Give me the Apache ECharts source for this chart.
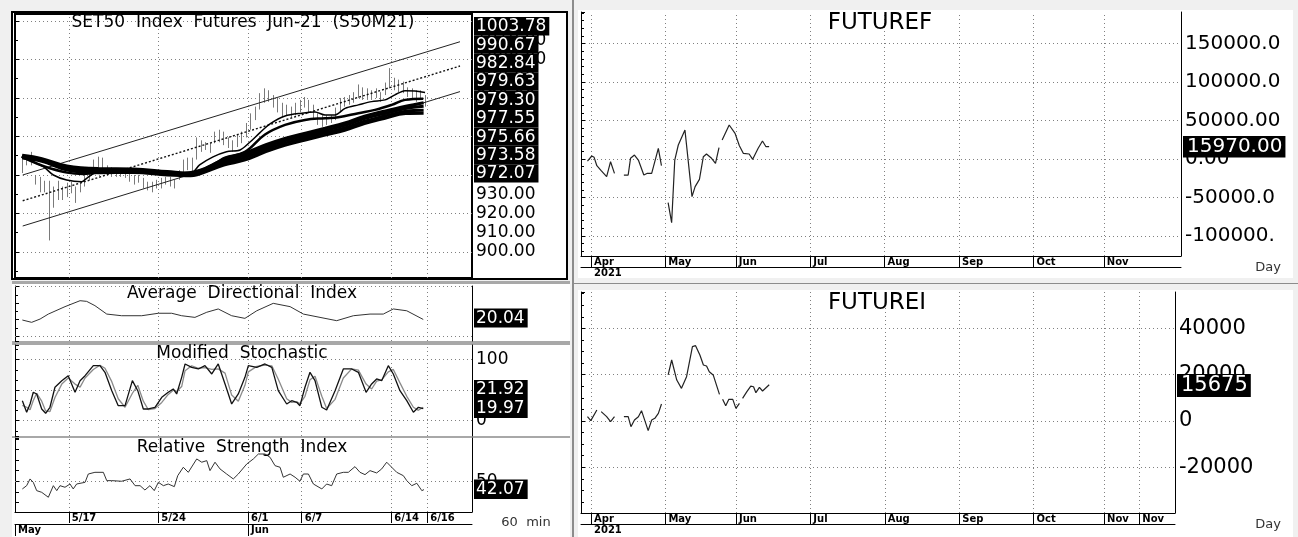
<!DOCTYPE html>
<html>
<head>
<meta charset="utf-8">
<title>SET50 Index Futures Jun-21</title>
<script src="https://cdn.jsdelivr.net/npm/echarts@6/dist/echarts.min.js"></script>
<style>
  html, body { margin: 0; padding: 0; background: #f0f0f0; }
  #chart { width: 1298px; height: 537px; }
</style>
</head>
<body>
<div id="chart"></div>
<script>
// ---- left side: 60 min chart, x in trading days (0 = left edge of plot) ----
const dateDays = [3, 8, 13, 16, 21, 23];
const dateLabels = ['5/17', '5/24', '6/1', '6/7', '6/14', '6/16'];
const monthDays = [0, 13];
const monthLabels = ['May', 'Jun'];

// price bars, four per day starting at barStart
const barStart = 0.375, barStep = 0.25;
const barLow = [941, 945, 945, 935, 931, 931, 906, 923, 927, 927,
  928.5, 930.5, 925.5, 931, 934, 937.5, 941, 944, 943.5, 940,
  939, 939, 939, 938.5, 936.5, 935, 936, 933, 932, 931,
  933, 933, 935, 934, 933, 937.5, 941, 942.5, 941.5, 948,
  952, 953, 951.5, 956.5, 957, 955.5, 954, 952, 954.5, 956.5,
  959.5, 963.5, 968.5, 974, 977.5, 978, 975, 972.5, 970, 971,
  970, 971, 972.5, 975, 972, 969.5, 966, 965, 966, 967,
  968.5, 972.5, 975.5, 976.5, 977.5, 980, 979, 979, 979, 980,
  978, 981.5, 985, 984, 983, 982.5, 980.5, 980, 978, 979,
  975.5];
const barHigh = [948, 949, 952, 940, 939, 937, 937, 934, 937, 934,
  936, 936.5, 934, 936, 940, 944, 948, 949.5, 949, 945,
  944, 943.5, 942.5, 941.5, 942.5, 940, 940, 938.5, 936.5, 936.5,
  937.5, 938.5, 939, 939, 937.5, 942.5, 948, 949, 949, 959.5,
  958, 957, 956.5, 962.5, 963.5, 962.5, 959.5, 958, 961, 962.5,
  967, 972, 975.5, 982.5, 985, 984, 981.5, 980, 977.5, 976.5,
  975.5, 977.5, 979, 980.5, 979, 976.5, 972, 971, 971, 971,
  975, 980, 980.5, 981.5, 983, 987, 985.5, 985, 984, 985,
  983, 988, 995.5, 990.5, 989.5, 988.5, 985.5, 985, 984, 984,
  981.5];

// regression channel
const chanDays = [0.43, 24.83];
const chanUpper = [940.0, 1009.2];
const chanMid = [926.6, 996.6];
const chanLower = [913.5, 983.3];

// moving averages
const maFastDays = [0.37, 1.58, 2.14, 2.88, 3.72, 4.0, 4.56, 5.3, 6.98, 8.65, 9.77, 10.3, 11.05, 11.8, 12.56, 13.1,
  13.67, 14.23, 15.07, 16.0, 16.74, 17.3, 17.86, 18.42, 19.16, 19.9, 20.65, 21.2, 21.76, 22.32, 22.88];
const maFast = [949.5, 944.3, 940, 937.4, 936.5, 938.3, 941.7, 942.6, 942, 940.5, 940.5, 945.2, 949.4, 952.1, 953, 957,
  962, 966.5, 970.6, 972.1, 972.7, 971.2, 971.2, 974.6, 976.4, 978.1, 979, 981.6, 983.8, 983.6, 982.84];
const maMidDays = [0.37, 1.95, 3.81, 5.3, 7.53, 9.21, 10.33, 11.26, 11.72, 12.83, 13.95, 15.07, 16.18, 17.3, 18.04,
  19.16, 20.09, 21.02, 21.76, 22.78];
const maMid = [949.5, 943.5, 940.5, 941.7, 941.7, 940.9, 942.6, 946.5, 949, 952, 961, 966, 968.6, 969.5, 970,
  972.1, 973.8, 976.4, 979, 979.63];
const maSlowDays = [0.4, 1.5, 2.9, 4.7, 6.6, 8.5, 9.8, 11.0, 11.7, 12.8, 14.0, 15.1, 16.2, 17.3, 18.4, 19.5, 20.6, 21.8, 22.8];
const maSlow1 = [950.2, 948.5, 944.7, 943.3, 943.1, 941.8, 941.0, 945.1, 948.5, 951.3, 955.7, 959.1, 961.7, 964.3, 967.0, 970.5, 973.1, 975.7, 977.55];
const maSlow2 = [949.7, 948.0, 944.0, 942.6, 942.5, 941.2, 940.5, 944.4, 947.4, 950.1, 954.5, 957.9, 960.5, 963.1, 965.8, 969.3, 971.9, 974.5, 975.66];
const maSlow3 = [949.3, 947.6, 943.2, 941.8, 941.9, 940.6, 940.1, 943.6, 946.4, 948.9, 953.3, 956.7, 959.3, 961.9, 964.4, 967.9, 970.5, 973.1, 973.58];
const maSlow4 = [948.8, 947.1, 942.6, 941.2, 941.3, 940.0, 939.6, 942.9, 945.3, 947.7, 952.1, 955.5, 958.1, 960.7, 963.2, 966.7, 969.3, 971.9, 972.07];
const mainTicks = [900, 910, 920, 930, 940, 950, 960, 970, 980, 990, 1000, 1010];
const mainLast = ['1003.78', '990.67', '982.84', '979.63', '979.30', '977.55', '975.66', '973.58', '972.07'];

// Average Directional Index
const adxDays = [0.41, 0.93, 1.4, 1.86, 2.79, 3.63, 4.0, 4.46, 5.12, 5.95, 7.07, 8.0, 8.74, 9.3, 10.04, 10.7, 11.34,
  12.09, 12.83, 13.49, 14.41, 15.35, 16.09, 17.02, 17.95, 18.88, 19.81, 20.55, 21.11, 21.86, 22.78];
const adx = [19.7, 18.3, 20.3, 23.3, 27.8, 31.4, 31.0, 28.4, 23.3, 22.3, 22.3, 23.8, 23.8, 22.3, 21.3, 24.4, 26.4,
  22.3, 20.7, 25.3, 29.8, 27.8, 23.3, 21.3, 19.3, 22.3, 23.3, 23.3, 26.4, 25.3, 20.04];

// Modified Stochastic
const stochDays = [0.41, 0.65, 0.84, 1.02, 1.21, 1.49, 1.71, 1.95, 2.23, 2.61,
  2.97, 3.35, 3.63, 3.91, 4.37, 4.74, 5.02, 5.4, 5.76, 6.14,
  6.55, 6.85, 7.16, 7.44, 7.81, 8.19, 8.55, 8.83, 9.02, 9.3,
  9.49, 9.86, 10.23, 10.6, 10.98, 11.34, 11.72, 12.09, 12.46, 12.83,
  13.02, 13.49, 13.95, 14.33, 14.69, 15.16, 15.44, 15.72, 15.9, 16.18,
  16.46, 16.74, 17.12, 17.39, 17.86, 18.32, 18.79, 19.16, 19.59, 19.9,
  20.18, 20.46, 20.83, 21.11, 21.48, 21.86, 22.23, 22.51, 22.78];
const stochK = [32.8, 13.8, 27.4, 46.6, 43.8, 19.2, 12.1, 22, 54.8, 65.6,
  73.8, 46.6, 65.6, 73.8, 90.2, 90.2, 79.3, 49.2, 24.6, 24.6,
  65.6, 49.2, 19.2, 19.2, 22, 38.4, 46.6, 52, 43.8, 71.1,
  93, 87.5, 84.8, 90.2, 76.6, 93, 60.2, 27.4, 43.8, 71.1,
  90.2, 87.5, 93, 87.5, 49.2, 27.4, 32.8, 30.2, 24.6, 54.8,
  79.3, 65.6, 22, 17.5, 49.2, 84.8, 84.8, 79.3, 46.6, 60.2,
  68.4, 65.6, 90.2, 76.6, 49.2, 32.8, 13.8, 22, 19.97];
const stochD = [25, 22, 18, 33, 45, 32, 16, 15, 38, 60,
  70, 60, 55, 70, 84, 91, 86, 64, 36, 22,
  45, 58, 32, 18, 20, 30, 43, 50, 48, 56,
  82, 90, 86, 87, 84, 85, 78, 42, 32, 58,
  80, 89, 91, 90, 68, 36, 30, 31, 28, 40,
  67, 73, 40, 20, 35, 70, 85, 83, 60, 52,
  65, 67, 80, 84, 62, 40, 22, 17, 21.92];

// Relative Strength Index
const rsiDays = [0.41, 0.65, 0.84, 1.02, 1.21, 1.49, 1.86, 2.14, 2.33, 2.51,
  2.79, 3.07, 3.25, 3.44, 3.91, 4.09, 4.46, 4.93, 5.12, 5.4,
  5.95, 6.42, 6.7, 6.98, 7.25, 7.53, 7.77, 8.0, 8.28, 8.55,
  8.89, 9.08, 9.39, 9.67, 10.14, 10.42, 10.7, 10.88, 11.16, 11.44,
  11.81, 12.18, 12.46, 12.93, 13.3, 13.58, 13.95, 14.23, 14.51,
  14.79, 14.97, 15.35, 15.63, 15.9, 16.09, 16.37, 16.65, 17.12, 17.39,
  17.67, 17.95, 18.32, 18.6, 18.97, 19.25, 19.53, 19.81, 20.18, 20.46,
  20.74, 21.02, 21.3, 21.67, 21.86, 22.14, 22.42, 22.7, 22.82];
const rsi = [42.7, 45.8, 52.2, 49, 41.1, 39.5, 34.8, 45.8, 41.1, 45.8,
  44.3, 47.4, 42.7, 47.4, 49, 56.9, 58.5, 58.5, 50.6, 50.6,
  50, 52.2, 45.8, 45.8, 41.7, 45.8, 41.1, 49, 45.8, 47.4,
  44.9, 55.3, 63.3, 58.5, 71.2, 68.1, 69.6, 60.1, 68.1, 61.7,
  56.9, 52.2, 56.9, 66.4, 71.2, 75.9, 75.9, 72.8, 64.8,
  63.3, 53.8, 56.9, 53.8, 50, 56.9, 56.9, 47.4, 42.7, 47.4,
  45.8, 56.9, 58.5, 58.5, 63.9, 58.5, 56.3, 60.1, 57.9, 61.7,
  68.1, 63.3, 58.5, 55.3, 50.6, 45.8, 48.1, 41.1, 42.07];

// ---- right side: daily, x in trading days from 1 Apr 2021 ----
const futMonthDays = [0, 19, 37, 56, 75, 94, 113, 131];
const futMonths = ['Apr', 'May', 'Jun', 'Jul', 'Aug', 'Sep', 'Oct', 'Nov'];
const futIMonthDays = [0, 19, 37, 56, 75, 94, 113, 131, 140];
const futIMonths = ['Apr', 'May', 'Jun', 'Jul', 'Aug', 'Sep', 'Oct', 'Nov', 'Nov'];

const futFDays = [-0.9, 0.2, 0.8, 1.5, 2.6, 4.0, 5.0, 6.0, 7.2, 8.4, 9.5, 10.1, 11.1, 12.1, 13.5, 14.4, 15.5, 17.2, 18.0,
  18.9, 19.7, 20.6, 21.4, 22.3, 24.0, 25.8, 26.6, 27.7, 28.7, 29.5, 30.8, 31.8, 32.7,
  33.1, 33.5, 35.3, 36.8, 37.9, 38.9, 40.4, 41.3, 42.7, 43.8, 44.7, 45.5];
const futF = [-2600, 3900, 2200, -8700, -15200, -23000, -3500, -18600, null, -20800, -20800, 900, 5200, -1300, -20800, -18600, -18600, 13900, -8700,
  null, -56700, -82700, -1300, 18200, 37700, -48900, -35900, -26400, 3000, 6500, 900, -5600, 14700,
  null, 24700, 44200, 33300, 17300, 7400, 6500, -400, 13900, 23400, 16000, 15970];
const futFTicks = [-100000, -50000, 0, 50000, 100000, 150000];

const futIDays = [-0.9, -0.05, 1.5, 2.0, 2.6, 4.0, 5.0, 6.0, 7.2, 8.4, 9.5, 10.2, 11.1, 12.1, 12.9, 14.6, 15.5, 16.3, 17.2, 18.0,
  18.9, 19.7, 20.6, 21.9, 23.1, 24.4, 25.9, 26.7, 27.8, 28.7, 29.5, 30.2, 31.2, 32.8,
  33.2, 33.6, 34.4, 35.2, 36.2, 37.0, 37.9, 38.3, 38.7, 39.8, 40.8, 41.5, 42.1, 43.0, 43.8, 45.5];
const futI = [1870, 150, 4750, null, 4030, 1870, -290, 1870, null, 1870, 1870, -2450, 430, 1870, 4460, -4180, 430, 1150, 3310, 7340,
  null, 19900, 26350, 17700, 14100, 19150, 32100, 32540, 28500, 24200, 23760, 21300, 19900, 11500,
  null, 9360, 6620, 9360, 9360, 5470, 7630, null, 9790, 12670, 15100, 14800, 12230, 14540, 12960, 15675];
const futITicks = [-20000, 0, 20000, 40000];

const FONT = 'DejaVu Sans';
const chart = echarts.init(document.getElementById('chart'));

const dotted = {type: [1, 3], color: '#808080', width: 1};

// dotted vertical / horizontal guide lines
function guides(xs, ys) {
    const data = xs.map(d => ({xAxis: d})).concat((ys || []).map(v => ({yAxis: v})));
    return {silent: true, z: 1, symbol: ['none', 'none'], label: {show: false}, lineStyle: dotted, data: data, animation: false};
}

function line(xi, yi, days, vals, color, width, extra) {
    return Object.assign({
        type: 'line', xAxisIndex: xi, yAxisIndex: yi,
        data: days.map((d, i) => [d, vals[i] === null ? '-' : vals[i]]),
        showSymbol: false, symbol: 'none', silent: true, z: 3,
        lineStyle: {color: color, width: width}
    }, extra || {});
}

// axis that only draws an edge line with small inside ticks
function tickAxis(grid, pos, min, max, split, minor) {
    return {
        gridIndex: grid, type: 'value', position: pos, min: min, max: max, splitNumber: split,
        axisLine: {show: true, onZero: false, lineStyle: {color: '#000', width: 1}},
        axisTick: {show: true, inside: true, length: 4, lineStyle: {color: '#000'}},
        minorTick: {show: minor > 1, splitNumber: minor, length: 3, lineStyle: {color: '#000'}},
        axisLabel: {show: false}, splitLine: {show: false}
    };
}

function labelAxis(grid, min, max, split, ticks, fmt, size, showSplit) {
    return {
        gridIndex: grid, type: 'value', position: 'right', min: min, max: max, splitNumber: split,
        axisLine: {show: true, onZero: false, lineStyle: {color: '#000', width: 1}},
        axisTick: {show: false},
        axisLabel: {customValues: ticks, formatter: fmt, fontSize: size, margin: 4, color: '#000', fontFamily: FONT},
        splitLine: {show: showSplit, showMinLine: false, showMaxLine: false, lineStyle: dotted}
    };
}

function dateAxis(grid, min, max, ticks, labels, offset, tickLen) {
    return {
        gridIndex: grid, type: 'value', position: 'bottom', min: min, max: max, offset: offset,
        axisLine: {show: true, onZero: false, lineStyle: {color: '#000', width: 1}},
        axisTick: {show: tickLen > 0, customValues: ticks, length: tickLen, lineStyle: {color: '#000'}},
        axisLabel: {
            customValues: ticks, formatter: v => labels[ticks.indexOf(v)],
            align: 'left', verticalAlign: 'top', margin: 1, padding: [0, 0, 0, 3],
            fontFamily: FONT, fontWeight: 'bold', fontSize: 10, color: '#000'
        },
        splitLine: {show: false}
    };
}

const hidden = g => ({gridIndex: g, type: 'value', min: 0, max: 25.5, show: false});

// black value boxes on the right of each panel
const boxes = [];
function box(text, x, y, size, h, padL) {
    boxes.push({
        type: 'text', x: x, y: y, z: 100, silent: true,
        style: {
            text: text, font: size + 'px "' + FONT + '"', fill: '#fff', backgroundColor: '#000',
            padding: [1, 3, 0, padL], lineHeight: h - 1, verticalAlign: 'top'
        }
    });
}
mainLast.forEach((t, i) => box(t, 474, 17 + 18.4 * i, 17, 18.4, 2));
box('20.04', 474, 308.5, 17, 19, 2);
box('21.92', 474, 380, 17, 19, 2);
box('19.97', 474, 399, 17, 19, 2);
box('42.07', 474, 479.5, 17, 19.5, 2);
box('15970.00', 1183, 136, 20, 21.5, 4);
box('15675', 1177, 374, 21, 23, 4);

function txt(text, x, y, size, align, color, weight) {
    return {
        type: 'text', x: x, y: y, z: 50, silent: true,
        style: {
            text: text, font: (weight || 'normal') + ' ' + size + 'px "' + FONT + '"',
            fill: color || '#000', align: align || 'center', verticalAlign: 'middle'
        }
    };
}
function rect(x, y, w, h, fill, z) {
    return {type: 'rect', silent: true, z: z || -10, shape: {x: x, y: y, width: w, height: h}, style: {fill: fill}};
}

const barData = barLow.map((lo, i) => [barStart + i * barStep, lo, barHigh[i]]);

chart.setOption({
    animation: false,
    backgroundColor: '#f0f0f0',
    textStyle: {fontFamily: FONT},
    grid: [
        {left: 15, top: 14, width: 457, height: 264, show: true, borderColor: '#000', borderWidth: 2, outerBoundsMode: 'none'},
        {left: 15, top: 286, width: 457, height: 55, outerBoundsMode: 'none'},
        {left: 15, top: 345, width: 457, height: 91, outerBoundsMode: 'none'},
        {left: 15, top: 438, width: 457, height: 74, outerBoundsMode: 'none'},
        {left: 581, top: 12, width: 600, height: 244, outerBoundsMode: 'none'},
        {left: 581, top: 292, width: 594, height: 221, outerBoundsMode: 'none'}
    ],
    xAxis: [
        hidden(0), hidden(1), hidden(2),
        dateAxis(3, 0, 25.5, dateDays, dateLabels, 0, 11),
        dateAxis(3, 0, 25.5, monthDays, monthLabels, 12, 12),
        dateAxis(4, -2.55, 150.7, futMonthDays, futMonths, 0, 11),
        dateAxis(4, -2.55, 150.7, [0], ['2021'], 11, 0),
        dateAxis(5, -2.55, 149.1, futIMonthDays, futIMonths, 0, 11),
        dateAxis(5, -2.55, 149.1, [0], ['2021'], 11, 0)
    ],
    yAxis: [
        labelAxis(0, 886.5, 1023.6, 7, mainTicks, v => v.toFixed(2), 17, true),
        tickAxis(0, 'left', 886.5, 1023.6, 7, 2),
        labelAxis(1, 7, 40.3, 3, [], v => '', 17, false),
        tickAxis(1, 'left', 7, 40.3, 3, 2),
        labelAxis(2, -25.1, 124.1, 3, [0, 50, 100], v => String(v), 17, true),
        tickAxis(2, 'left', -25.1, 124.1, 3, 3),
        labelAxis(3, 20.8, 91.1, 7, [50], v => String(v), 17, false),
        tickAxis(3, 'left', 20.8, 91.1, 7, 1),
        labelAxis(4, -126000, 191000, 6, futFTicks, v => v.toFixed(2).slice(0, 8), 20, true),
        tickAxis(4, 'left', -126000, 191000, 6, 5),
        labelAxis(5, -39741, 55724, 5, futITicks, v => String(v), 21, true),
        tickAxis(5, 'left', -39741, 55724, 5, 4)
    ],
    series: [
        {
            type: 'custom', xAxisIndex: 0, yAxisIndex: 0, data: barData, silent: true, z: 2,
            encode: {x: 0, y: [1, 2]},
            renderItem: (params, api) => {
                const lo = api.coord([api.value(0), api.value(1)]);
                const hi = api.coord([api.value(0), api.value(2)]);
                const x = Math.round(lo[0]) + 0.5;
                return {type: 'line', shape: {x1: x, y1: lo[1], x2: x, y2: hi[1]}, style: {stroke: '#7a7a7a', lineWidth: 1}};
            },
            markLine: guides(dateDays)
        },
        line(0, 0, chanDays, chanUpper, '#222', 1),
        line(0, 0, chanDays, chanMid, '#111', 1.4, {lineStyle: {color: '#111', width: 1.4, type: [2, 2]}}),
        line(0, 0, chanDays, chanLower, '#222', 1),
        line(0, 0, maSlowDays, maSlow4, '#000', 3, {smooth: 0.4}),
        line(0, 0, maSlowDays, maSlow3, '#000', 3, {smooth: 0.4}),
        line(0, 0, maSlowDays, maSlow2, '#000', 3, {smooth: 0.4}),
        line(0, 0, maSlowDays, maSlow1, '#000', 3, {smooth: 0.4}),
        line(0, 0, maMidDays, maMid, '#000', 2.5, {smooth: 0.4}),
        line(0, 0, maFastDays, maFast, '#000', 1.5, {smooth: 0.3}),

        line(1, 2, adxDays, adx, '#333', 1, {markLine: guides(dateDays, [10, 40])}),
        line(2, 4, stochDays, stochD, '#8a8a8a', 1.3, {markLine: guides(dateDays)}),
        line(2, 4, stochDays, stochK, '#111', 1.3),
        line(3, 6, rsiDays, rsi, '#333', 1, {markLine: guides(dateDays, [50])}),

        line(5, 8, futFDays, futF, '#222', 1.2, {markLine: guides(futMonthDays)}),
        line(7, 10, futIDays, futI, '#222', 1.2, {markLine: guides(futIMonthDays)})
    ],
    graphic: [
        // panel backgrounds and separators
        rect(12, 12, 556, 268, '#fff'),
        {type: 'rect', silent: true, z: -9, shape: {x: 12, y: 12, width: 555, height: 267}, style: {fill: 'none', stroke: '#000', lineWidth: 2}},
        rect(12, 284, 558, 253, '#fff'),
        rect(12, 281, 558, 3, '#a8a8a8', -5),
        rect(12, 341, 558, 4, '#a8a8a8', -5),
        rect(12, 436, 558, 2, '#a8a8a8', -5),
        rect(578, 10, 715, 268, '#fff'),
        rect(578, 290, 715, 247, '#fff'),
        rect(572, 0, 2, 537, '#8c8c8c', -5),
        rect(574, 283, 724, 1, '#8c8c8c', -5),

        txt('SET50  Index  Futures  Jun-21  (S50M21)', 243, 22.5, 17),
        txt('Average  Directional  Index', 242, 294, 17),
        txt('Modified  Stochastic', 242, 354, 17),
        txt('Relative  Strength  Index', 242, 448, 17),
        txt('60  min', 526, 523, 13, 'center', '#333'),
        txt('FUTUREF', 880, 23.5, 23),
        txt('FUTUREI', 877, 303.5, 23),
        txt('Day', 1268, 268, 13, 'center', '#333'),
        txt('Day', 1268, 525, 13, 'center', '#333')
    ].concat(boxes)
});
</script>
</body>
</html>
